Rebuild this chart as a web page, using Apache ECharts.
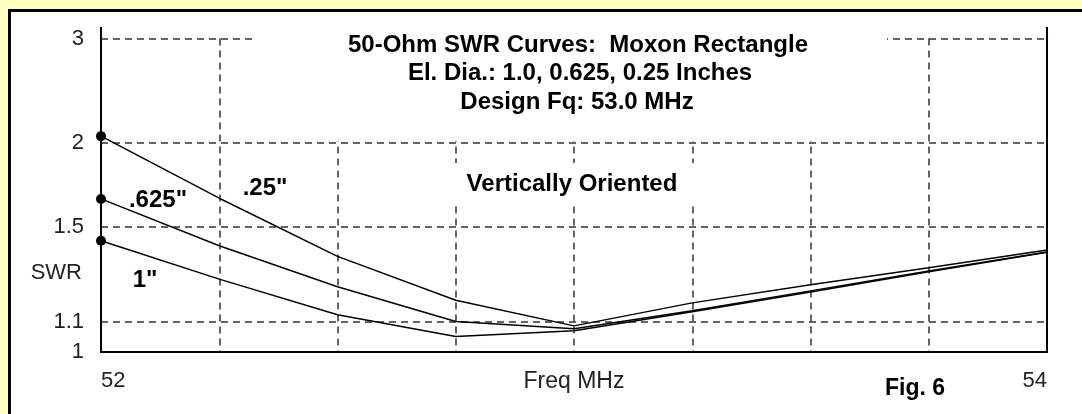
<!DOCTYPE html>
<html><head><meta charset="utf-8">
<script src="https://cdn.jsdelivr.net/npm/echarts@6/dist/echarts.min.js"></script>
<style>
html,body{margin:0;padding:0;background:#FFFFC0;overflow:hidden;}
#frame{position:absolute;left:8px;top:9px;width:1074px;height:405px;background:#fff;border-left:3px solid #000;border-top:3px solid #000;box-sizing:border-box;}
#chart{position:absolute;left:0;top:0;width:1082px;height:414px;}
</style></head><body>
<div id="frame"></div><div id="chart"></div>
<script>
// ---- data ----
const freqs = [52, 52.25, 52.5, 52.75, 53, 53.25, 53.5, 53.75, 54];
const swr025  = [2.05, 1.65, 1.36, 1.18, 1.087, 1.17, 1.24, 1.31, 1.389];
const swr0625 = [1.646, 1.408, 1.232, 1.102, 1.077, 1.141, 1.216, 1.297, 1.38];
const swr1    = [1.431, 1.263, 1.126, 1.051, 1.07, 1.137, 1.212, 1.293, 1.378];
const swrTicks = [1, 1.1, 1.5, 2, 3];
const xTickLabels = ['52', '54'];
const seriesNames = ['.25"', '.625"', '1"'];

const toRho = s => (s - 1) / (s + 1);
const rhoTicks = swrTicks.map(toRho);
const FONT = "'Liberation Sans', Arial, sans-serif";
const grid = { type: [7, 5], color: '#333', width: 1.5 };

function mk(name, arr) {
  return {
    type: 'line', name: name, symbol: 'none', showSymbol: true, showAllSymbol: true,
    lineStyle: { color: '#000', width: 1.5 }, itemStyle: { color: '#000' },
    z: 3, silent: true, animation: false,
    data: freqs.map((f, i) => i === 0
      ? { value: [f, toRho(arr[i])], symbol: 'circle', symbolSize: 10 }
      : [f, toRho(arr[i])])
  };
}

function txt(t, x, y, size, bold, align) {
  return { type: 'text', z: 5, silent: true,
    style: { text: t, x: x, y: y, fill: '#000',
      font: (bold ? 'bold ' : '') + size + 'px ' + FONT,
      align: align || 'center', verticalAlign: 'middle' } };
}
function vline(x) {
  return { type: 'line', z: 5, silent: true, shape: { x1: x, y1: 27, x2: x, y2: 39 }, style: { stroke: '#000', lineWidth: 2 } };
}

const chart = echarts.init(document.getElementById('chart'), null, { renderer: 'canvas' });
chart.setOption({
  backgroundColor: 'transparent',
  animation: false,
  grid: { left: 101, right: 35, top: 38.5, bottom: 62, containLabel: false, outerBoundsMode: 'none' },
  xAxis: {
    type: 'value', min: 52, max: 54, interval: 0.25,
    axisLine: { show: true, onZero: false, lineStyle: { color: '#000', width: 2 } },
    axisTick: { show: false },
    axisLabel: {
      margin: 18, fontSize: 22, color: '#222', fontFamily: FONT,
      showMinLabel: true, showMaxLabel: true, alignMinLabel: 'left', alignMaxLabel: 'right',
      formatter: v => xTickLabels.indexOf(String(v)) >= 0 ? String(v) : ''
    },
    splitLine: { show: true, lineStyle: grid },
    name: 'Freq MHz', nameLocation: 'middle', nameGap: 18, nameMoveOverlap: false,
    nameTextStyle: { fontSize: 23, color: '#222', fontFamily: FONT }
  },
  yAxis: [{
    type: 'value', min: 0, max: 0.5, position: 'left',
    axisLine: { show: true, lineStyle: { color: '#000', width: 2 } },
    axisTick: { show: false, customValues: rhoTicks },
    axisLabel: {
      customValues: rhoTicks, margin: 17, fontSize: 22, color: '#222', fontFamily: FONT,
      formatter: v => {
        let best = 0;
        rhoTicks.forEach((r, i) => { if (Math.abs(r - v) < Math.abs(rhoTicks[best] - v)) best = i; });
        return String(swrTicks[best]);
      }
    },
    splitLine: { show: true, lineStyle: grid }
  }, {
    type: 'value', min: 0, max: 0.5, position: 'right',
    axisLine: { show: true, lineStyle: { color: '#000', width: 2 } },
    axisTick: { show: false }, axisLabel: { show: false }, splitLine: { show: false }
  }],
  graphic: [
    vline(101), vline(1047),
    { type: 'rect', z: 1, silent: true, shape: { x: 257, y: 27, width: 630, height: 114 }, style: { fill: '#fff' } },
    txt('50-Ohm SWR Curves:  Moxon Rectangle', 578, 45, 24, true),
    txt('El. Dia.: 1.0, 0.625, 0.25 Inches', 580, 73, 24, true),
    txt('Design Fq: 53.0 MHz', 577, 102, 24, true),
    { type: 'rect', z: 1, silent: true, shape: { x: 425, y: 163, width: 300, height: 42 }, style: { fill: '#fff' } },
    txt('Vertically Oriented', 572, 184, 24, true),
    txt(seriesNames[0], 265, 188, 24, true),
    txt(seriesNames[1], 158, 200, 24, true),
    txt(seriesNames[2], 145, 280, 24, true),
    { type: 'text', z: 5, silent: true, style: { text: 'SWR', x: 82, y: 273, fill: '#222', font: '22px ' + FONT, align: 'right', verticalAlign: 'middle' } },
    txt('Fig. 6', 915, 389, 23, true)
  ],
  series: [mk(seriesNames[0], swr025), mk(seriesNames[1], swr0625), mk(seriesNames[2], swr1)]
});
</script>
</body></html>
